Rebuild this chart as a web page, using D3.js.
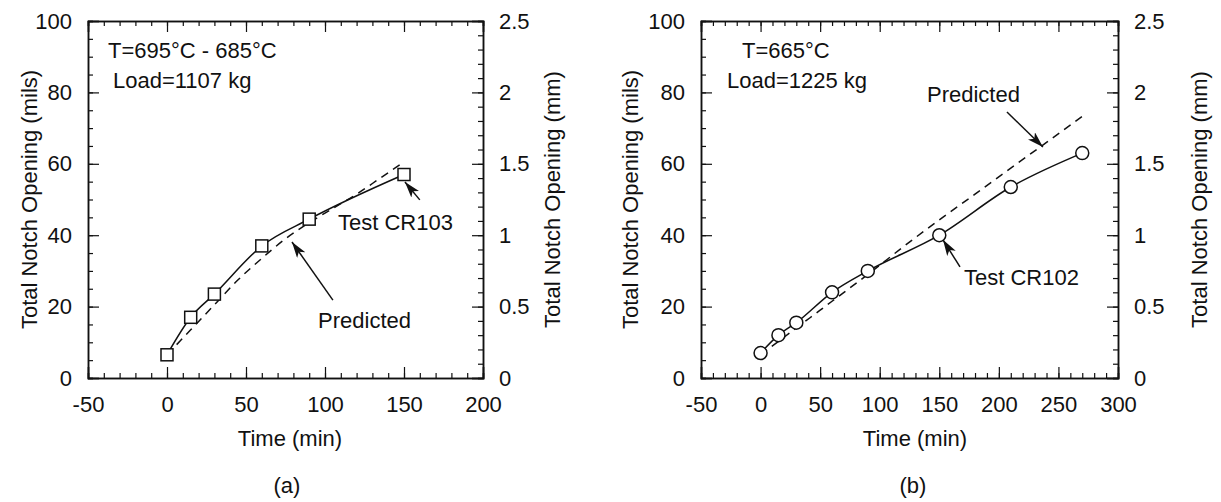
<!DOCTYPE html>
<html>
<head>
<meta charset="utf-8">
<script src="https://cdn.jsdelivr.net/npm/d3@7"></script>
<style>
  html, body { margin: 0; padding: 0; background: #fff; }
  svg text { font-family: "Liberation Sans", Arial, Helvetica, sans-serif; fill: #111; }
</style>
</head>
<body>
<svg id="chart" width="1221" height="502"></svg>
<script>
// ---------------- data ----------------
const timeA = [0, 15, 30, 60, 90, 150];
const openA = [6.5, 17, 23.5, 37, 44.5, 57];
const predTimeA = [0, 15, 30, 45, 60, 75, 90, 105, 120, 135, 150];
const predA = [6.5, 13.5, 20.5, 27.5, 33.5, 39, 43.5, 47.5, 51.5, 56, 60.5];

const timeB = [0, 15, 30, 60, 90, 150, 210, 270];
const openB = [7, 12, 15.5, 24, 30, 40, 53.5, 63];
const predTimeB = [0, 30, 60, 90, 120, 150, 180, 210, 240, 270];
const predB = [6.5, 14, 21.5, 29, 36.8, 44.3, 51.5, 58.8, 66, 73.3];

const xTicksA = [-50, 0, 50, 100, 150, 200];
const xTicksB = [-50, 0, 50, 100, 150, 200, 250, 300];
const yTicksMils = [0, 20, 40, 60, 80, 100];
const yTicksMm = [0, 0.5, 1, 1.5, 2, 2.5];

const yLabelLeft = "Total Notch Opening (mils)";
const yLabelRight = "Total Notch Opening (mm)";
const xLabel = "Time (min)";

// ---------------- drawing ----------------
const svg = d3.select("#chart");
const FS = 22;

svg.append("defs").append("marker")
  .attr("id", "arrow")
  .attr("viewBox", "0 0 16 10")
  .attr("refX", 16).attr("refY", 5)
  .attr("markerWidth", 16).attr("markerHeight", 10)
  .attr("markerUnits", "userSpaceOnUse")
  .attr("orient", "auto")
  .append("path")
  .attr("d", "M0,0 L16,5 L0,10 L4,5 Z")
  .attr("fill", "#111");

function drawPanel(p) {
  const x = d3.scaleLinear().domain([p.xTicks[0], p.xTicks[p.xTicks.length - 1]]).range([p.left, p.right]);
  const y = d3.scaleLinear().domain([0, 100]).range([p.bottom, p.top]);
  const yR = d3.scaleLinear().domain([0, 2.5]).range([p.bottom, p.top]);
  const g = svg.append("g");

  const xMinor = d3.range(p.xTicks[0], p.xTicks[p.xTicks.length - 1] + 0.1, 10);
  const yMinor = d3.range(0, 100.1, 5);
  const yRMinor = d3.range(0, 2.51, 0.1);

  function styleAxis(sel) {
    sel.select(".domain").attr("stroke", "#111").attr("stroke-width", 1.5);
    sel.selectAll(".tick line").attr("stroke", "#111").attr("stroke-width", 1.2);
    sel.selectAll("text").attr("font-size", FS).attr("fill", "#111")
      .attr("font-family", "Liberation Sans, Arial, sans-serif");
  }
  const plain = d => String(d);
  // bottom
  g.append("g").attr("transform", `translate(0,${p.bottom})`)
    .call(d3.axisBottom(x).tickValues(xMinor).tickSize(-5).tickFormat(""))
    .call(styleAxis);
  g.append("g").attr("transform", `translate(0,${p.bottom})`)
    .call(d3.axisBottom(x).tickValues(p.xTicks).tickSize(-11).tickPadding(18).tickFormat(plain))
    .call(styleAxis);
  // top
  g.append("g").attr("transform", `translate(0,${p.top})`)
    .call(d3.axisTop(x).tickValues(xMinor).tickSize(-5).tickFormat(""))
    .call(styleAxis);
  g.append("g").attr("transform", `translate(0,${p.top})`)
    .call(d3.axisTop(x).tickValues(p.xTicks).tickSize(-11).tickFormat(""))
    .call(styleAxis);
  // left
  g.append("g").attr("transform", `translate(${p.left},0)`)
    .call(d3.axisLeft(y).tickValues(yMinor).tickSize(-5).tickFormat(""))
    .call(styleAxis);
  g.append("g").attr("transform", `translate(${p.left},0)`)
    .call(d3.axisLeft(y).tickValues(yTicksMils).tickSize(-11).tickPadding(16).tickFormat(plain))
    .call(styleAxis);
  // right
  g.append("g").attr("transform", `translate(${p.right},0)`)
    .call(d3.axisRight(yR).tickValues(yRMinor).tickSize(-5).tickFormat(""))
    .call(styleAxis);
  g.append("g").attr("transform", `translate(${p.right},0)`)
    .call(d3.axisRight(yR).tickValues(yTicksMm).tickSize(-11).tickPadding(16).tickFormat(plain))
    .call(styleAxis);

  // axis titles
  g.append("text").attr("transform", `translate(${p.yLabelX},${(p.top + p.bottom) / 2}) rotate(-90)`)
    .attr("text-anchor", "middle").attr("font-size", FS).text(yLabelLeft);
  g.append("text").attr("transform", `translate(${p.yLabelRX},${(p.top + p.bottom) / 2}) rotate(-90)`)
    .attr("text-anchor", "middle").attr("font-size", FS).text(yLabelRight);
  g.append("text").attr("x", p.xLabelX).attr("y", 446)
    .attr("text-anchor", "middle").attr("font-size", FS).text(xLabel);
  g.append("text").attr("x", p.captionX).attr("y", 493)
    .attr("text-anchor", "middle").attr("font-size", FS).text(p.caption);

  // predicted (dashed)
  const line = d3.line().x(d => x(d[0])).y(d => y(d[1])).curve(d3.curveMonotoneX);
  g.append("path").datum(d3.zip(p.predT, p.predV))
    .attr("d", line).attr("fill", "none").attr("stroke", "#111")
    .attr("stroke-width", 1.5).attr("stroke-dasharray", "8,6");
  // measured (solid)
  g.append("path").datum(d3.zip(p.t, p.v))
    .attr("d", line).attr("fill", "none").attr("stroke", "#111").attr("stroke-width", 1.5);
  // markers
  if (p.marker === "square") {
    g.selectAll("rect.pt").data(d3.zip(p.t, p.v)).join("rect")
      .attr("x", d => x(d[0]) - 6).attr("y", d => y(d[1]) - 6)
      .attr("width", 12).attr("height", 12)
      .attr("fill", "#fff").attr("stroke", "#111").attr("stroke-width", 1.5);
  } else {
    g.selectAll("circle.pt").data(d3.zip(p.t, p.v)).join("circle")
      .attr("cx", d => x(d[0])).attr("cy", d => y(d[1])).attr("r", 6.5)
      .attr("fill", "#fff").attr("stroke", "#111").attr("stroke-width", 1.5);
  }

  // annotations
  p.texts.forEach(a => {
    g.append("text").attr("x", x(a.t)).attr("y", y(a.v)).attr("font-size", FS).text(a.s);
  });
  p.arrows.forEach(a => {
    g.append("line").attr("x1", x(a.t1)).attr("y1", y(a.v1))
      .attr("x2", x(a.t2)).attr("y2", y(a.v2))
      .attr("stroke", "#111").attr("stroke-width", 1.5).attr("marker-end", "url(#arrow)");
  });
}

drawPanel({
  left: 88, right: 483, top: 21, bottom: 378,
  xTicks: xTicksA, t: timeA, v: openA, predT: predTimeA, predV: predA,
  marker: "square", yLabelX: 37, yLabelRX: 560, xLabelX: 290, captionX: 287, caption: "(a)",
  texts: [
    { t: -37.3, v: 89.6, s: "T=695°C - 685°C" },
    { t: -34.2, v: 81.2, s: "Load=1107 kg" },
    { t: 108.2, v: 41.5, s: "Test CR103" },
    { t: 95.6, v: 14, s: "Predicted" }
  ],
  arrows: [
    { t1: 160, v1: 49.9, t2: 150.6, v2: 54.9 },
    { t1: 105, v1: 21.8, t2: 79.1, v2: 38.1 }
  ]
});

drawPanel({
  left: 701, right: 1118, top: 21, bottom: 378,
  xTicks: xTicksB, t: timeB, v: openB, predT: predTimeB, predV: predB,
  marker: "circle", yLabelX: 638, yLabelRX: 1207, xLabelX: 915, captionX: 913, caption: "(b)",
  texts: [
    { t: -15.6, v: 89.6, s: "T=665°C" },
    { t: -28.2, v: 81.2, s: "Load=1225 kg" },
    { t: 139.7, v: 77.3, s: "Predicted" },
    { t: 170.7, v: 26, s: "Test CR102" }
  ],
  arrows: [
    { t1: 206.8, v1: 74.5, t2: 237, v2: 64.7 },
    { t1: 167.4, v1: 31.1, t2: 153.1, v2: 38.7 }
  ]
});
</script>
</body>
</html>
